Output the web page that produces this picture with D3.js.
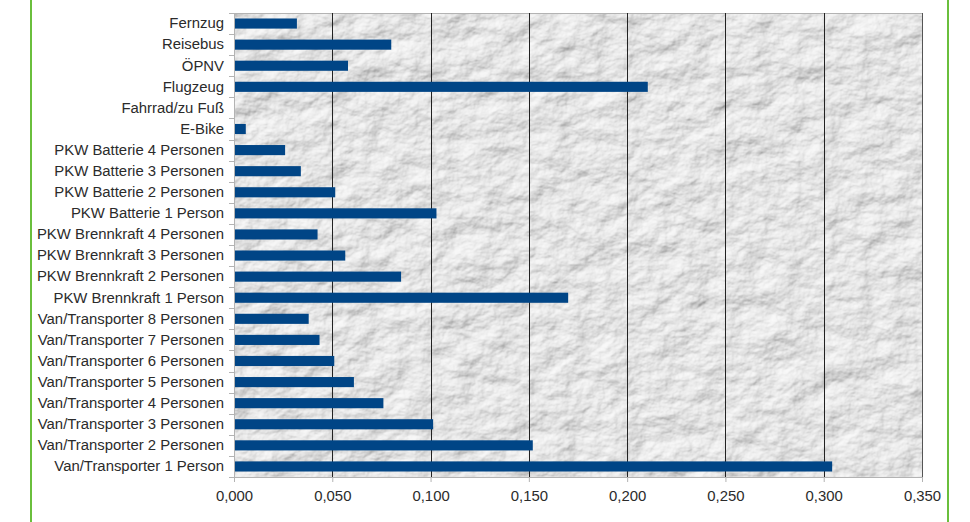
<!DOCTYPE html>
<html>
<head>
<meta charset="utf-8">
<script src="https://cdn.jsdelivr.net/npm/d3@7"></script>
<style>
  html, body { margin: 0; padding: 0; background: #fff; }
  #chart { width: 970px; height: 522px; }
  text { font-family: "Liberation Sans", Arial, sans-serif; }
</style>
</head>
<body>
<div id="chart"></div>
<script>
// categories, top to bottom
const categories = [
  "Fernzug", "Reisebus", "ÖPNV", "Flugzeug", "Fahrrad/zu Fuß", "E-Bike",
  "PKW Batterie 4 Personen", "PKW Batterie 3 Personen", "PKW Batterie 2 Personen", "PKW Batterie 1 Person",
  "PKW Brennkraft 4 Personen", "PKW Brennkraft 3 Personen", "PKW Brennkraft 2 Personen", "PKW Brennkraft 1 Person",
  "Van/Transporter 8 Personen", "Van/Transporter 7 Personen", "Van/Transporter 6 Personen",
  "Van/Transporter 5 Personen", "Van/Transporter 4 Personen", "Van/Transporter 3 Personen",
  "Van/Transporter 2 Personen", "Van/Transporter 1 Person"
]
const values = [
  0.032, 0.080, 0.058, 0.2105, 0, 0.006,
  0.026, 0.034, 0.0515, 0.103,
  0.0425, 0.0566, 0.085, 0.170,
  0.038, 0.0435, 0.051,
  0.061, 0.076, 0.1013,
  0.152, 0.3043
]
const xTicks = [0, 0.05, 0.1, 0.15, 0.2, 0.25, 0.3, 0.35]

const config = {
  width: 970,
  height: 522,
  left: 234,
  right: 922,
  top: 13,
  bottom: 477,
  fontSize: 14.9,
  barColor: "#004586",
  frameColor: "#6abf3c"
}

const de = d3.formatLocale({ decimal: ",", thousands: ".", grouping: [3], currency: ["", " €"] })
const fmt = de.format(".3f")

const svg = d3.select("#chart")
  .append("svg")
    .attr("width", config.width)
    .attr("height", config.height)

// crumpled paper texture
const defs = svg.append("defs")
const filt = defs.append("filter")
    .attr("id", "paper")
    .attr("x", 0).attr("y", 0).attr("width", 1).attr("height", 1)
    .attr("filterUnits", "objectBoundingBox")
filt.append("feTurbulence")
    .attr("type", "fractalNoise")
    .attr("baseFrequency", "0.03 0.04")
    .attr("numOctaves", 5)
    .attr("seed", 7)
    .attr("result", "noise")
const light = filt.append("feDiffuseLighting")
    .attr("in", "noise")
    .attr("surfaceScale", 4)
    .attr("diffuseConstant", 1.1)
    .attr("lighting-color", "#efefef")
    .attr("result", "lit")
light.append("feDistantLight").attr("azimuth", 235).attr("elevation", 55)

const x = d3.scaleLinear().domain([0, 0.35]).range([config.left, config.right])
const y = d3.scaleBand().domain(categories).range([config.top, config.bottom]).padding(0)
const barH = y.bandwidth() * 0.48

// plot background
svg.append("rect")
    .attr("x", config.left)
    .attr("y", config.top)
    .attr("width", config.right - config.left)
    .attr("height", config.bottom - config.top)
    .attr("fill", "#d9d9d9")
    .attr("filter", "url(#paper)")

// top border
svg.append("line")
    .attr("x1", config.left).attr("x2", config.right)
    .attr("y1", config.top + 0.5).attr("y2", config.top + 0.5)
    .attr("stroke", "#b3b3b3")

// vertical grid lines
svg.selectAll("line.grid")
  .data(xTicks.slice(1))
  .enter()
  .append("line")
    .attr("class", "grid")
    .attr("x1", d => Math.round(x(d)) + 0.5)
    .attr("x2", d => Math.round(x(d)) + 0.5)
    .attr("y1", config.top)
    .attr("y2", config.bottom)
    .attr("stroke", d => d === 0.35 ? "#555" : "#222")
    .attr("stroke-width", 1)

// bars
svg.selectAll("rect.bar")
  .data(values)
  .enter()
  .append("rect")
    .attr("class", "bar")
    .attr("x", x(0) + 1)
    .attr("y", (d, i) => y(categories[i]) + (y.bandwidth() - barH) / 2)
    .attr("width", d => Math.max(0, x(d) - x(0) - 1))
    .attr("height", barH)
    .attr("fill", config.barColor)

// x axis
const xAxis = d3.axisBottom(x)
    .tickValues(xTicks)
    .tickFormat(fmt)
    .tickSize(5)
    .tickPadding(8)
const gx = svg.append("g")
    .attr("transform", `translate(0,${config.bottom})`)
    .call(xAxis)
gx.select(".domain").attr("stroke", "#b3b3b3")
gx.selectAll(".tick line").attr("stroke", "#b3b3b3")
gx.selectAll(".tick text")
    .attr("fill", "#2b2b2b")
    .attr("font-size", config.fontSize)
    .attr("font-family", "Liberation Sans, Arial, sans-serif")

// y axis: labels
const yAxis = d3.axisLeft(y).tickSize(0).tickPadding(10)
const gy = svg.append("g")
    .attr("transform", `translate(${config.left},0)`)
    .call(yAxis)
gy.select(".domain").attr("stroke", "#b3b3b3")
gy.selectAll(".tick text")
    .attr("fill", "#2b2b2b")
    .attr("font-size", config.fontSize)
    .attr("font-family", "Liberation Sans, Arial, sans-serif")

// y axis: ticks on category boundaries
const edges = categories.map(c => y(c)).concat([config.bottom])
svg.selectAll("line.ytick")
  .data(edges)
  .enter()
  .append("line")
    .attr("class", "ytick")
    .attr("x1", config.left - 5)
    .attr("x2", config.left)
    .attr("y1", d => Math.round(d) + 0.5)
    .attr("y2", d => Math.round(d) + 0.5)
    .attr("stroke", "#b3b3b3")

// green frame lines
svg.selectAll("line.frame")
  .data([31, 948])
  .enter()
  .append("line")
    .attr("class", "frame")
    .attr("x1", d => d).attr("x2", d => d)
    .attr("y1", 0).attr("y2", config.height)
    .attr("stroke", config.frameColor)
    .attr("stroke-width", 2)
</script>
</body>
</html>
